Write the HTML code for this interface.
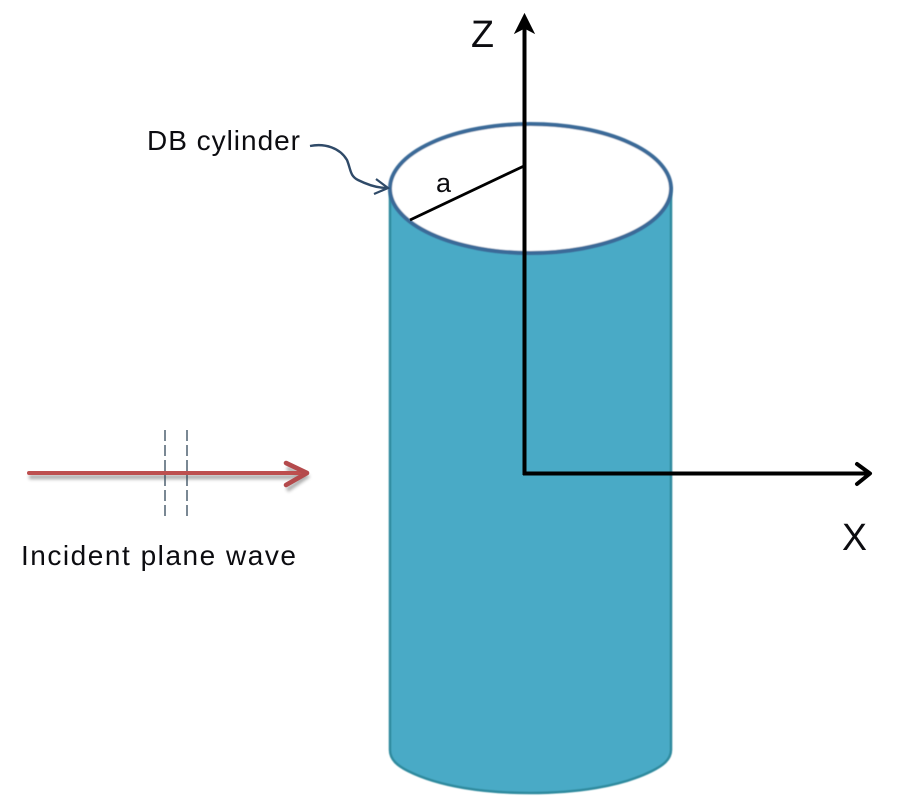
<!DOCTYPE html>
<html>
<head>
<meta charset="utf-8">
<style>
html,body{margin:0;padding:0;background:#fff;width:900px;height:800px;overflow:hidden}
svg{display:block}
text{font-family:"Liberation Sans",sans-serif;fill:#0c0c10}
</style>
</head>
<body>
<svg width="900" height="800" viewBox="0 0 900 800" xmlns="http://www.w3.org/2000/svg">
  <defs>
    <filter id="b" x="-5%" y="-200%" width="110%" height="500%"><feGaussianBlur stdDeviation="1.6"/></filter>
    <filter id="s" x="-5%" y="-5%" width="110%" height="110%"><feGaussianBlur stdDeviation="0.4"/></filter>
  </defs>

  <!-- cylinder body -->
  <path d="M390 188 V750 C390 760 398 766 408 771 C440 787 485 793 530 793 C575 793 620 787 652 771 C662 766 671 760 671 750 V188 Z" fill="#4aaac6" stroke="#2f8a9e" stroke-width="2.5" filter="url(#s)"/>

  <!-- top ellipse -->
  <ellipse cx="530.5" cy="188.5" rx="140.5" ry="64.5" fill="#fff" stroke="#3a6a98" stroke-width="4" filter="url(#s)"/>

  <!-- axes -->
  <path d="M524.5 20 V475 M523 473.5 H868" fill="none" stroke="#000" stroke-width="4"/>
  <path d="M524.5 14 L534 33 L524.5 28 L515 33 Z" fill="#000" stroke="#000" stroke-width="1"/>
  <path d="M857 464 L870 473.5 L857 484" fill="none" stroke="#000" stroke-width="4" stroke-linecap="round" stroke-linejoin="round"/>

  <!-- radius -->
  <line x1="524" y1="166" x2="410" y2="220" stroke="#000" stroke-width="2.8"/>

  <!-- DB cylinder leader -->
  <path d="M310 146 C325 143 340 148 347 160 C351 170 350 176 358 180 C368 185 378 188 387 188" fill="none" stroke="#2f4a68" stroke-width="2.4"/>
  <path d="M376 179 L388 188 L374 194" fill="none" stroke="#2f4a68" stroke-width="2.2"/>

  <!-- incident wave -->
  <g filter="url(#b)" opacity="0.6">
    <path d="M29 477 H306 M287 468 L306 477 L287 490" fill="none" stroke="#777" stroke-width="4.5"/>
  </g>
  <path d="M29 473 H306" fill="none" stroke="#bd4f4f" stroke-width="4" stroke-linecap="round"/>
  <path d="M286 463 L307 473 L286 485" fill="none" stroke="#b44a4c" stroke-width="4.6" stroke-linejoin="round" stroke-linecap="round"/>
  <path d="M165 430 V517 M187 430 V517" fill="none" stroke="#33495a" stroke-width="1.3" stroke-dasharray="11 4"/>

  <!-- labels -->
  <text x="471" y="47" font-size="38" textLength="23" lengthAdjust="spacingAndGlyphs">Z</text>
  <text x="842" y="550" font-size="38" textLength="25" lengthAdjust="spacingAndGlyphs">X</text>
  <text x="147" y="150" font-size="28" textLength="153" lengthAdjust="spacing">DB cylinder</text>
  <text x="436" y="192" font-size="27">a</text>
  <text x="21" y="565" font-size="28" textLength="275" lengthAdjust="spacing">Incident plane wave</text>
</svg>
</body>
</html>
